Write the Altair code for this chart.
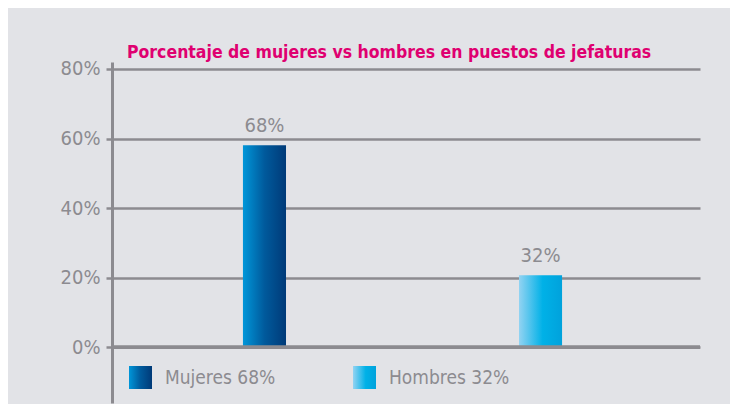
import altair as alt
import pandas as pd

categories = ["Mujeres", "Hombres"]
bar_values = [58.1, 20.7]
value_labels = ["68%", "32%"]
y_ticks = [0, 20, 40, 60, 80]
title_text = "Porcentaje de mujeres vs hombres en puestos de jefaturas"

df = pd.DataFrame({
    "cat": categories,
    "val": bar_values,
    "lab": value_labels,
})
df["legend"] = df["cat"] + " " + df["lab"]

grad_m = "{gradient: 'linear', x1: 0, y1: 0, x2: 1, y2: 0, stops: [{offset: 0, color: '#0096d9'}, {offset: 0.5, color: '#005a9c'}, {offset: 1, color: '#003a78'}]}"
grad_h = "{gradient: 'linear', x1: 0, y1: 0, x2: 1, y2: 0, stops: [{offset: 0, color: '#93d3f2'}, {offset: 0.55, color: '#00b1e7'}, {offset: 1, color: '#00a2dc'}]}"

FONT = "DejaVu Sans Condensed, Roboto"
GRAY = "#8c8b90"

yscale = alt.Scale(domain=[-16, 82], nice=False, zero=False)
xenc = alt.X("cat:N", sort=categories, axis=None,
             scale=alt.Scale(paddingInner=0.844, paddingOuter=0.487, align=0.487))

base = alt.Chart(df)

bars = base.mark_bar().encode(
    x=xenc,
    y=alt.Y("val:Q", scale=yscale,
            axis=alt.Axis(values=y_ticks, labelExpr="datum.value + '%'",
                          title=None, grid=True, gridColor=GRAY, gridWidth=2.5,
                          domainColor=GRAY, domainWidth=3, tickColor=GRAY,
                          tickWidth=2.5, tickSize=6, labelPadding=6,
                          labelFont=FONT, labelFontSize=20, labelColor=GRAY)),
    y2=alt.datum(0),
    fill=alt.Fill("legend:N", sort=list(df["legend"]),
                  scale=alt.Scale(domain=list(df["legend"]),
                                  range=[alt.ExprRef(grad_m), alt.ExprRef(grad_h)]),
                  legend=alt.Legend(orient="none", legendX=17, legendY=304,
                                    direction="horizontal", title=None,
                                    symbolType="square", symbolSize=529,
                                    symbolStrokeWidth=0, labelFont=FONT,
                                    labelFontSize=19, labelColor=GRAY,
                                    labelOffset=13, columnPadding=77,
                                    padding=0)),
)

texts = base.mark_text(font=FONT, fontSize=20, color=GRAY, baseline="bottom", dy=-9).encode(
    x=xenc,
    y=alt.Y("val:Q", scale=yscale),
    text="lab:N",
)

zero_line = alt.Chart(df).mark_rule(color=GRAY, strokeWidth=3.5).encode(
    y=alt.Y(datum=0, scale=yscale)
)

chart = alt.layer(bars, texts, zero_line).properties(
    width=588,
    height=341,
    autosize=alt.AutoSizeParams(type="none"),
    padding={"left": 104, "top": 54, "right": 30, "bottom": 1},
    background="#e2e3e7",
    title=alt.Title(title_text, anchor="start", dx=15, offset=-3, font=FONT,
                    fontSize=17.5, fontWeight="bold", color="#df0070",
                    frame="group"),
).configure_view(stroke=None)

chart.save("out.html", embed_options={"renderer": "svg", "actions": False})
